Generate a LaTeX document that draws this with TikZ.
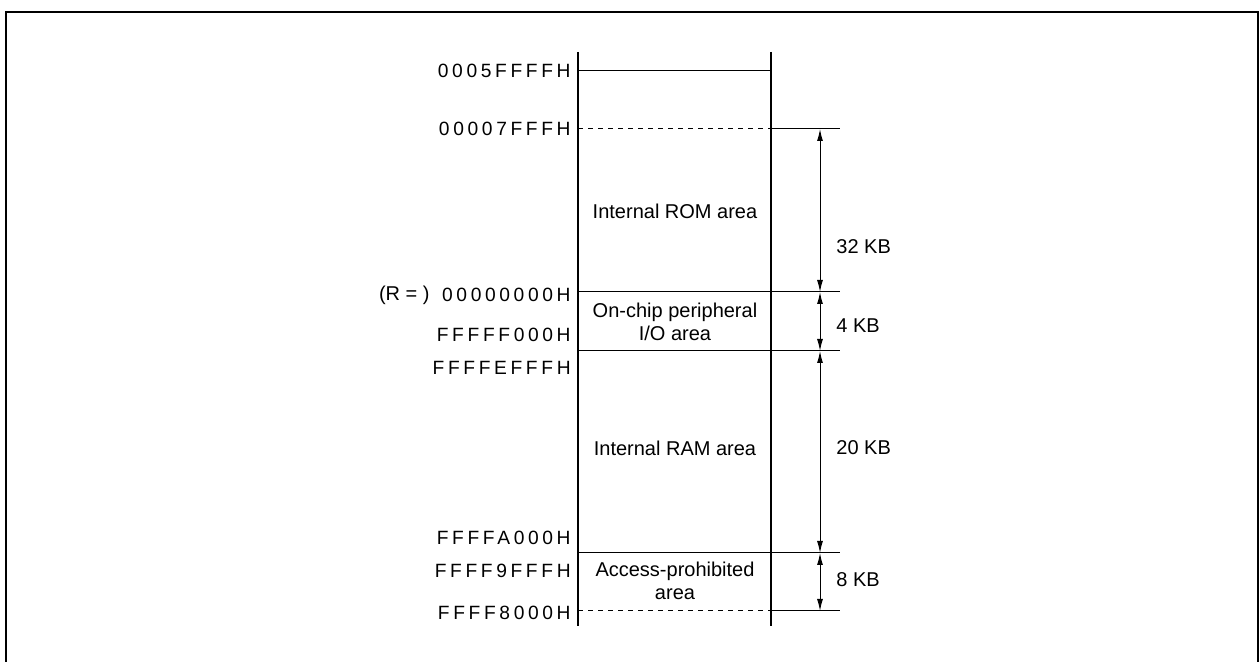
\documentclass[tikz,border=0pt]{standalone}
\usepackage{fontspec}
\setmainfont{Liberation Sans}
\newfontfamily\addrfont[LetterSpace=19]{Liberation Sans}
\usetikzlibrary{arrows.meta, positioning}

\begin{document}
\begin{tikzpicture}[
    x=0.5pt, y=-0.5pt,
    wall/.style={line width=1.4pt},
    bound/.style={line width=0.5pt},
    dashbound/.style={line width=0.5pt, dash pattern=on 2.5pt off 2.5pt},
    sizearrow/.style={line width=0.5pt,
      {Latex[length=6pt,width=3pt]}-{Latex[length=6pt,width=3pt]}},
    addr/.style={anchor=east, inner sep=0pt, font=\addrfont\fontsize{9.6}{11}\selectfont},
    area/.style={align=center, inner sep=0pt, font=\fontsize{10}{11.5}\selectfont},
    kb/.style={anchor=west, inner sep=0pt, font=\fontsize{10}{12}\selectfont},
  ]
  \useasboundingbox (0,0) rectangle (1260,662);
  % outer frame, open at the bottom
  \draw[line width=1.2pt] (6,662) -- (6,12) -- (1258,12) -- (1258,662);

  % boundary points: left wall, right wall, arrow column, line end
  \foreach \n/\y in {top/71, rom/129, io/292, ram/351, pro/553, bot/611} {
    \coordinate (L\n) at (578,\y);
    \coordinate (R\n) at (771,\y);
    \coordinate (A\n) at (820,\y);
    \coordinate (E\n) at (840,\y);
  }
  \coordinate (wlt) at (578,52);  \coordinate (wlb) at (578,626);
  \coordinate (wrt) at (771,52);  \coordinate (wrb) at (771,626);

  % map walls
  \draw[wall] (wlt) -- (wlb);
  \draw[wall] (wrt) -- (wrb);

  % area boundaries
  \draw[bound] (Ltop) -- (Rtop);
  \draw[dashbound] (Lrom) -- (Rrom);
  \draw[bound] (Rrom) -- (Erom);
  \draw[bound] (Lio) -- (Eio);
  \draw[bound] (Lram) -- (Eram);
  \draw[bound] (Lpro) -- (Epro);
  \draw[dashbound] (Lbot) -- (Rbot);
  \draw[bound] (Rbot) -- (Ebot);

  % size arrows
  \draw[sizearrow] (Arom) -- (Aio);
  \draw[sizearrow] (Aio) -- (Aram);
  \draw[sizearrow] (Aram) -- (Apro);
  \draw[sizearrow] (Apro) -- (Abot);

  % addresses
  \node[addr] (a5ffff) at (571,71)  {0005FFFFH};
  \node[addr] (a7fff)  at (571,129) {00007FFFH};
  \node[addr] (a0)     at (571,295) {00000000H};
  \node[addr] (af000)  at (571,335) {FFFFF000H};
  \node[addr] (aefff)  at (571,368) {FFFFEFFFH};
  \node[addr] (aa000)  at (571,538) {FFFFA000H};
  \node[addr] (a9fff)  at (571,571) {FFFF9FFFH};
  \node[addr] (a8000)  at (571,613) {FFFF8000H};
  \node[anchor=east, inner sep=0pt, font=\fontsize{10}{12}\selectfont]
    (rbase) at (430,295) {(R = )};

  % area names
  \node[area] (romarea) at (675,211) {Internal ROM area};
  \node[area] (ioarea)  at (675,322) {On-chip peripheral\\I/O area};
  \node[area] (ramarea) at (675,448) {Internal RAM area};
  \node[area] (proarea) at (675,581) {Access-prohibited\\area};

  % sizes
  \node[kb] (romkb) at (836,247) {32 KB};
  \node[kb] (iokb)  at (836,326) {4 KB};
  \node[kb] (ramkb) at (836,448) {20 KB};
  \node[kb] (prokb) at (836,580) {8 KB};
\end{tikzpicture}
\end{document}
